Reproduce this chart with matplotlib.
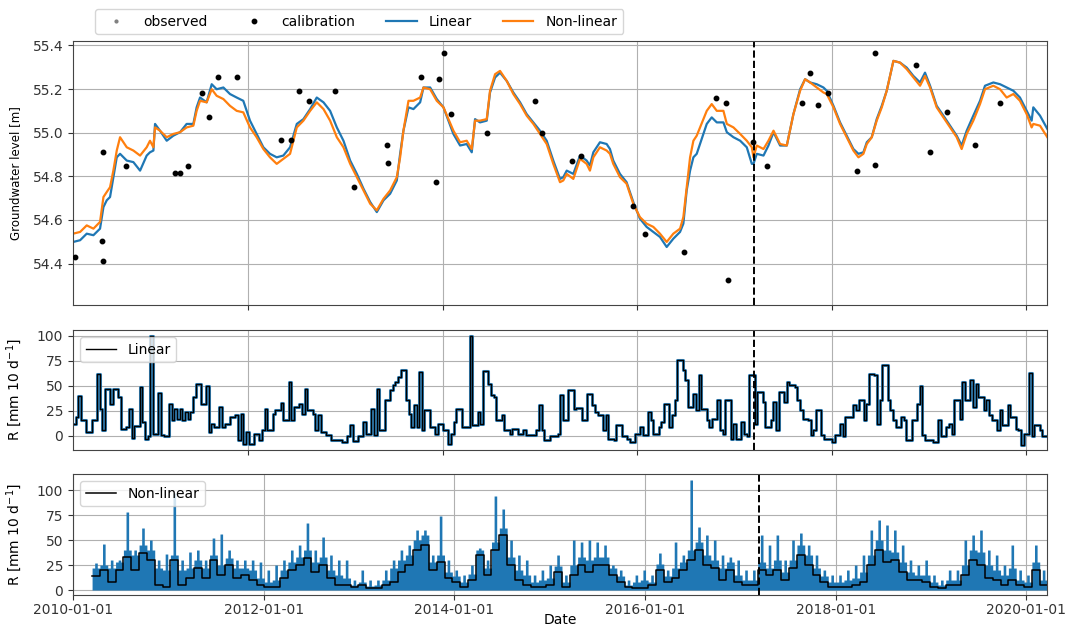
import numpy as np
import pandas as pd
import matplotlib
matplotlib.use("Agg")
import matplotlib.pyplot as plt
import matplotlib.dates as mdates

# ---------------- data ----------------
# groundwater level, decimal years
t_gw = [2010.201, 2010.273, 2010.341, 2010.410, 2010.478, 2010.513, 2010.547, 2010.581, 2010.615, 2010.650,
        2010.684, 2010.753, 2010.821, 2010.890, 2010.958, 2010.992, 2011.027, 2011.044, 2011.095, 2011.164,
        2011.232, 2011.301, 2011.369, 2011.438, 2011.472, 2011.507, 2011.575, 2011.627, 2011.678, 2011.747,
        2011.815, 2011.884, 2011.952, 2012.021, 2012.089, 2012.158, 2012.226, 2012.295, 2012.363, 2012.432,
        2012.501, 2012.569, 2012.638, 2012.706, 2012.775, 2012.843, 2012.912, 2012.980, 2013.049, 2013.118,
        2013.186, 2013.255, 2013.323, 2013.392, 2013.460, 2013.529, 2013.563, 2013.597, 2013.649, 2013.700,
        2013.769, 2013.803, 2013.872, 2013.940, 2014.009,
        2014.111, 2014.180, 2014.248, 2014.300, 2014.334, 2014.385, 2014.454, 2014.488, 2014.540, 2014.591,
        2014.660, 2014.728, 2014.797, 2014.865, 2014.934, 2015.002, 2015.071, 2015.139, 2015.208, 2015.242,
        2015.277, 2015.345, 2015.414, 2015.482, 2015.516, 2015.551, 2015.619, 2015.688, 2015.722, 2015.756,
        2015.825, 2015.893, 2015.962, 2016.030, 2016.099, 2016.168, 2016.236, 2016.305, 2016.373, 2016.442,
        2016.476, 2016.510, 2016.545, 2016.579, 2016.613, 2016.647, 2016.716, 2016.767, 2016.819, 2016.887,
        2016.922, 2016.990, 2017.059, 2017.127, 2017.179, 2017.196, 2017.230, 2017.299, 2017.350, 2017.402,
        2017.470, 2017.539, 2017.607, 2017.676, 2017.727, 2017.779, 2017.847, 2017.916,
        2017.950, 2018.019, 2018.087, 2018.156, 2018.224, 2018.276, 2018.327, 2018.362, 2018.413, 2018.464,
        2018.516, 2018.567, 2018.636, 2018.704, 2018.773, 2018.841, 2018.910, 2018.961, 2019.013, 2019.081,
        2019.150, 2019.218, 2019.287, 2019.338, 2019.390, 2019.458, 2019.527, 2019.578, 2019.664, 2019.733,
        2019.801, 2019.870, 2019.938, 2020.007, 2020.058, 2020.075, 2020.144, 2020.219]

gw_linear = [54.499, 54.507, 54.537, 54.530, 54.560, 54.659, 54.690, 54.705, 54.796, 54.887,
             54.903, 54.872, 54.865, 54.826, 54.895, 54.910, 54.918, 55.040, 55.009, 54.963,
             54.986, 55.002, 55.040, 55.040, 55.116, 55.161, 55.139, 55.222, 55.199, 55.207,
             55.177, 55.161, 55.146, 55.055, 54.994, 54.933, 54.903, 54.887, 54.895, 54.933,
             55.040, 55.062, 55.108, 55.161, 55.139, 55.100, 55.024, 54.963, 54.872, 54.811,
             54.743, 54.682, 54.636, 54.690, 54.720, 54.781, 54.903, 55.009, 55.116, 55.108,
             55.139, 55.207, 55.207, 55.154, 55.116,
             54.994, 54.941, 54.948, 54.910, 55.062, 55.047, 55.055, 55.184, 55.253, 55.275,
             55.237, 55.184, 55.139, 55.085, 55.047, 55.009, 54.963, 54.872, 54.788, 54.796,
             54.826, 54.811, 54.895, 54.872, 54.849, 54.910, 54.956, 54.948, 54.925, 54.872,
             54.811, 54.773, 54.682, 54.606, 54.568, 54.545, 54.522, 54.476, 54.514, 54.545,
             54.583, 54.735, 54.826, 54.887, 54.903, 54.948, 55.040, 55.070, 55.047, 55.047,
             55.002, 54.979, 54.963, 54.933, 54.857, 54.857, 54.903, 54.895, 54.941, 55.002,
             54.941, 54.941, 55.085, 55.199, 55.245, 55.230, 55.222, 55.207,
             55.192, 55.123, 55.047, 54.986, 54.925, 54.903, 54.910, 54.956, 54.979, 55.062,
             55.123, 55.192, 55.329, 55.321, 55.298, 55.260, 55.230, 55.275, 55.215, 55.123,
             55.078, 55.032, 54.986, 54.941, 55.009, 55.078, 55.146, 55.215, 55.230, 55.222,
             55.207, 55.192, 55.161, 55.100, 55.055, 55.116, 55.078, 55.017]

gw_nonlinear = [54.537, 54.545, 54.575, 54.560, 54.591, 54.705, 54.728, 54.750, 54.826, 54.918,
                54.979, 54.933, 54.918, 54.895, 54.933, 54.963, 54.933, 55.024, 55.009, 54.979,
                54.994, 55.002, 55.024, 55.032, 55.100, 55.146, 55.139, 55.199, 55.169, 55.154,
                55.123, 55.100, 55.093, 55.024, 54.979, 54.925, 54.887, 54.857, 54.880, 54.903,
                55.024, 55.055, 55.100, 55.139, 55.108, 55.055, 54.979, 54.933, 54.857, 54.796,
                54.735, 54.674, 54.644, 54.697, 54.735, 54.796, 54.887, 55.009, 55.146, 55.146,
                55.161, 55.207, 55.199, 55.146, 55.116,
                55.009, 54.956, 54.963, 54.925, 55.055, 55.055, 55.062, 55.192, 55.268, 55.283,
                55.237, 55.177, 55.131, 55.078, 55.040, 54.994, 54.948, 54.857, 54.773, 54.781,
                54.811, 54.788, 54.880, 54.857, 54.826, 54.887, 54.933, 54.918, 54.903, 54.857,
                54.796, 54.766, 54.674, 54.613, 54.583, 54.568, 54.537, 54.499, 54.537, 54.560,
                54.613, 54.750, 54.887, 54.963, 54.986, 55.024, 55.100, 55.131, 55.100, 55.100,
                55.040, 55.024, 54.994, 54.963, 54.933, 54.887, 54.941, 54.925, 54.963, 55.009,
                54.948, 54.941, 55.085, 55.192, 55.245, 55.230, 55.207, 55.184,
                55.177, 55.116, 55.040, 54.979, 54.918, 54.887, 54.903, 54.948, 54.979, 55.055,
                55.116, 55.192, 55.329, 55.321, 55.291, 55.253, 55.215, 55.260, 55.207, 55.116,
                55.070, 55.024, 54.979, 54.925, 54.994, 55.055, 55.131, 55.199, 55.215, 55.199,
                55.161, 55.177, 55.146, 55.085, 55.024, 55.040, 55.032, 54.979]

# calibration heads
t_cal = [2010.221, 2010.495, 2010.506, 2010.513, 2010.742, 2011.250, 2011.301, 2011.387, 2011.524, 2011.599,
         2011.688, 2011.884, 2012.336, 2012.439, 2012.525, 2012.627, 2012.898, 2013.090, 2013.426, 2013.436,
         2013.779, 2013.933, 2013.964, 2014.019, 2014.084, 2014.454, 2014.951, 2015.019, 2015.335, 2015.420,
         2015.962, 2016.082, 2016.486, 2016.812, 2016.915, 2016.929, 2017.189, 2017.340, 2017.693, 2017.779,
         2017.857, 2017.967, 2018.266, 2018.447, 2018.447, 2018.865, 2019.013, 2019.191, 2019.476, 2019.733]
gw_cal = [54.431, 54.504, 54.411, 54.913, 54.849, 54.814, 54.814, 54.849, 55.183, 55.073,
          55.256, 55.256, 54.967, 54.967, 55.192, 55.146, 55.192, 54.753, 54.944, 54.861,
          55.256, 54.773, 55.245, 55.364, 55.085, 54.997, 55.146, 54.997, 54.872, 54.892,
          54.664, 54.534, 54.451, 55.161, 55.137, 54.324, 54.956, 54.846, 55.137, 55.275,
          55.125, 55.183, 54.826, 54.852, 55.364, 55.312, 54.913, 55.094, 54.944, 55.137]
t_obs = []
gw_obs = []

# recharge, 10-day periods starting at r_start
r_start = "2010-03-15"
r_step_days = 10
r_linear = [12, 19, 40, 16, 16, 4, 4, 16, 16, 62,
            27, 6, 47, 47, 32, 47, 47, 39, 7, 7,
            9, 27, -2, 10, 10, 49, 14, -3, 0, 100,
            2, 2, 43, 1, 0, 0, 32, 16, 27, 17,
            27, 16, 24, 17, 24, 39, 52, 52, 32, 32,
            50, 4, 12, 9, 9, 29, 9, 12, 12, 19,
            19, 21, -4, 22, -8, 4, -8, -8, 2, 2,
            -4, 6, 27, 6, 6, 22, 26, 26, 33, 16,
            16, 54, 16, 29, 29, 32, 22, 47, 26, 26,
            22, 6, 21, 4, 4, 1, 1, -4, -4, -4,
            -4, -6, -6, 0, 11, -5, -5, 0, 0, 14,
            2, 2, 27, 1, 47, 6, 6, 36, 36, 46,
            51, 54, 59, 66, 66, 36, 22, 9, 31, 9,
            64, 6, 26, 26, 9, 9, 2, 12, 12, 6,
            6, -8, 2, 14, 27, 27, 9, 9, 9, 100,
            11, 11, 24, 12, 65, 65, 52, 41, 39, 16,
            16, 21, 6, 6, 2, 7, 7, 2, 2, 6,
            1, 1, 1, 1, 6, 31, 6, -4, -4, 0,
            0, 0, 2, 41, 16, 16, 46, 46, 27, 28,
            28, 16, 16, 42, 42, 31, 24, 21, 21, 6,
            21, -3, -3, -4, 11, 11, 0, 0, -3, -6,
            -6, 2, 2, 9, 1, 1, 24, 16, 2, 2,
            9, 14, 32, 32, 9, 21, 36, 76, 76, 66,
            56, 29, 29, 42, 26, 61, 27, 27, 16, 9,
            17, 17, 36, 6, 2, 36, 36, -3, 12, -3,
            -3, 14, 2, 0, 61, 61, 12, 44, 44, 34,
            9, 9, 16, 34, 6, 44, 44, 34, 54, 51,
            51, 49, 36, 26, 17, 17, 16, 1, 6, 26,
            26, 1, -3, -3, -3, -6, 1, 1, 12, 0,
            19, 19, 19, 31, 26, 36, 36, 16, 32, 62,
            62, 61, 12, 36, 71, 71, 36, 26, 16, 9,
            9, 19, 16, -4, -4, 16, 16, 32, 50, 1,
            -4, -4, -4, -6, -6, 16, 0, 0, 9, 12,
            2, 36, 36, 17, 54, 36, 36, 56, 29, 52,
            39, 39, 26, 36, 21, 16, 16, 6, 26, 11,
            11, 31, 19, 19, 7, 6, -9, 2, 2, 63,
            0, 11, 11, 6, 0, 0]

# non-linear recharge: upper band on the 10-day grid
rn_upper = [22, 27, 22, 25, 46, 25, 22, 30, 22, 28, 30, 28, 40, 78, 40, 35, 40, 35, 45, 62, 45,
            40, 50, 40, 22, 30, 22, 20, 36, 20, 35, 97, 35, 20, 30, 20, 22, 38, 22, 30, 40, 30,
            22, 30, 22, 35, 52, 35, 25, 56, 25, 32, 40, 32, 22, 30, 22, 22, 30, 22, 20, 30, 20,
            12, 28, 12, 8, 20, 8, 10, 25, 10, 20, 30, 20, 28, 40, 28, 33, 45, 33, 40, 67, 40,
            28, 40, 28, 33, 53, 33, 20, 35, 20, 15, 30, 15, 12, 30, 12, 5, 10, 5, 8, 20, 8,
            4, 10, 4, 5, 10, 5, 10, 20, 10, 22, 30, 22, 30, 40, 30, 35, 45, 35, 50, 60, 50,
            55, 60, 55, 28, 35, 28, 35, 74, 35, 18, 30, 18, 14, 20, 14, 8, 15, 8, 16, 25, 16,
            40, 42, 40, 22, 30, 22, 48, 94, 48, 62, 81, 62, 33, 50, 33, 20, 35, 20, 15, 30, 15,
            8, 15, 8, 10, 20, 10, 12, 25, 12, 24, 35, 24, 8, 15, 8, 25, 50, 25, 33, 48, 33,
            30, 50, 30, 33, 48, 33, 33, 45, 33, 22, 25, 22, 14, 20, 14, 5, 10, 5, 8, 15, 8,
            10, 20, 10, 8, 15, 8, 26, 37, 26, 14, 20, 14, 22, 48, 22, 28, 35, 28, 40, 110, 40,
            48, 63, 48, 35, 55, 35, 30, 50, 30, 22, 35, 22, 28, 33, 28, 15, 30, 15, 10, 20, 10,
            10, 20, 10, 28, 55, 28, 22, 45, 22, 30, 55, 30, 18, 30, 18, 30, 50, 30, 45, 57, 45,
            35, 45, 35, 22, 35, 22, 14, 20, 14, 8, 15, 8, 8, 15, 8, 10, 20, 10, 12, 25, 12,
            18, 35, 18, 35, 60, 35, 50, 70, 50, 40, 65, 40, 38, 60, 38, 28, 45, 28, 18, 30, 18,
            15, 25, 15, 15, 30, 15, 8, 15, 8, 5, 10, 5, 10, 20, 10, 10, 20, 10, 25, 50, 25,
            40, 55, 40, 38, 60, 38, 25, 40, 25, 20, 35, 20, 15, 25, 15, 22, 45, 22, 10, 20, 10,
            8, 15, 8, 28, 45, 28, 10, 20, 10]

# non-linear recharge: median on a 30-day grid
rn_step_days = 30
rn_median = [14, 20, 8, 20, 33, 20, 37, 30, 5, 3,
             30, 5, 12, 22, 12, 30, 15, 25, 12, 15,
             10, 5, 3, 3, 12, 20, 25, 32, 18, 25,
             12, 5, 5, 3, 5, 2, 2, 5, 8, 18,
             25, 40, 45, 20, 28, 12, 8, 3, 10, 35,
             15, 40, 55, 25, 10, 5, 3, 3, 5, 18,
             3, 15, 25, 18, 25, 25, 15, 8, 3, 2,
             2, 5, 20, 8, 12, 20, 30, 40, 25, 22,
             10, 20, 8, 5, 5, 20, 15, 20, 10, 22,
             35, 25, 15, 8, 3, 3, 3, 5, 8, 25,
             40, 28, 30, 18, 10, 10, 8, 3, 2, 5,
             5, 15, 30, 25, 12, 10, 5, 10, 5, 3,
             20, 5]

split_date = "2017-03-14"
xlim_top = ("2010-03-15", "2020-03-20")
xlim_bottom = ("2010-01-01", "2020-03-20")


# ---------------- helpers ----------------
def dec2date(y):
    yr = int(np.floor(y))
    a = pd.Timestamp(yr, 1, 1)
    b = pd.Timestamp(yr + 1, 1, 1)
    return a + (y - yr) * (b - a)


def step_edges(start, n, days):
    return pd.date_range(start, periods=n + 1, freq=f"{days}D")


T_gw = [dec2date(v) for v in t_gw]
T_cal = [dec2date(v) for v in t_cal]
T_obs = [dec2date(v) for v in t_obs]
split = pd.Timestamp(split_date)

# ---------------- figure ----------------
fig = plt.figure(figsize=(10.66, 6.31), dpi=100)
L, W = 0.0685, 0.9137
ax1 = fig.add_axes([L, 0.5166, W, 0.4184])
ax2 = fig.add_axes([L, 0.2868, W, 0.1902])
ax3 = fig.add_axes([L, 0.0570, W, 0.1918])

grid_kw = dict(color="#b0b0b0", linewidth=0.8)

# top panel
ax1.plot(T_obs, gw_obs, ".", color="gray", ms=4, label="observed")
ax1.plot(T_cal, gw_cal, "o", color="black", ms=3.2, label="calibration", zorder=4)
ax1.plot(T_gw, gw_linear, color="#1f77b4", lw=1.6, label="Linear")
ax1.plot(T_gw, gw_nonlinear, color="#ff7f0e", lw=1.6, label="Non-linear")
ax1.axvline(split, color="black", ls="--", lw=1.4)
ax1.set_ylim(54.21, 55.42)
ax1.set_yticks([54.4, 54.6, 54.8, 55.0, 55.2, 55.4])
ax1.set_ylabel("Groundwater level [m]", fontsize=8.5)
ax1.yaxis.set_label_coords(-0.052, 0.5)

# middle panel
E = step_edges(r_start, len(r_linear), r_step_days)
vals = list(r_linear) + [r_linear[-1]]
ax2.step(E, vals, where="post", color="#1f77b4", lw=2.2, alpha=0.9)
ax2.step(E, vals, where="post", color="black", lw=1.0, label="Linear")
ax2.axvline(split, color="black", ls="--", lw=1.4)
ax2.set_ylim(-14.3, 105.7)
ax2.set_yticks([0, 25, 50, 75, 100])
ax2.set_ylabel("R [mm 10 d$^{-1}$]", fontsize=10)
ax2.yaxis.set_label_coords(-0.050, 0.5)
ax2.legend(loc="upper left", fontsize=10, handlelength=2.2)

# bottom panel
Eu = step_edges(r_start, len(rn_upper), r_step_days)
hi = list(rn_upper) + [rn_upper[-1]]
ax3.fill_between(Eu, 0, hi, step="post", color="#1f77b4", lw=0)
En = step_edges(r_start, len(rn_median), rn_step_days)
md = list(rn_median) + [rn_median[-1]]
ax3.step(En, md, where="post", color="black", lw=1.1, label="Non-linear")
ax3.axvline(split, color="black", ls="--", lw=1.4)
ax3.set_ylim(-5, 116)
ax3.set_yticks([0, 25, 50, 75, 100])
ax3.set_ylabel("R [mm 10 d$^{-1}$]", fontsize=10)
ax3.yaxis.set_label_coords(-0.050, 0.5)
ax3.legend(loc="upper left", fontsize=10, handlelength=2.2)
ax3.set_xlabel("Date", fontsize=10)
ax3.xaxis.set_label_coords(0.5, -0.148)

for ax, xl in ((ax1, xlim_top), (ax2, xlim_top), (ax3, xlim_bottom)):
    ax.set_xlim(pd.Timestamp(xl[0]), pd.Timestamp(xl[1]))
    ax.xaxis.set_major_locator(mdates.YearLocator(2))
    ax.xaxis.set_major_formatter(mdates.DateFormatter("%Y-%m-%d"))
    ax.grid(True, **grid_kw)
    ax.set_axisbelow(True)
    ax.tick_params(labelsize=10, colors="#333333")
    for s in ax.spines.values():
        s.set_color("#444444")
ax1.tick_params(axis="x", labelbottom=False)
ax2.tick_params(axis="x", labelbottom=False)
ax3.tick_params(axis="x", pad=2)

h, l = ax1.get_legend_handles_labels()
fig.legend(h, l, loc="upper left", bbox_to_anchor=(88 / 1066, 1 - 2 / 631), ncol=4, fontsize=10,
           handlelength=2.2, handletextpad=0.9, columnspacing=2.2)

fig.savefig("out.png", dpi=100)
